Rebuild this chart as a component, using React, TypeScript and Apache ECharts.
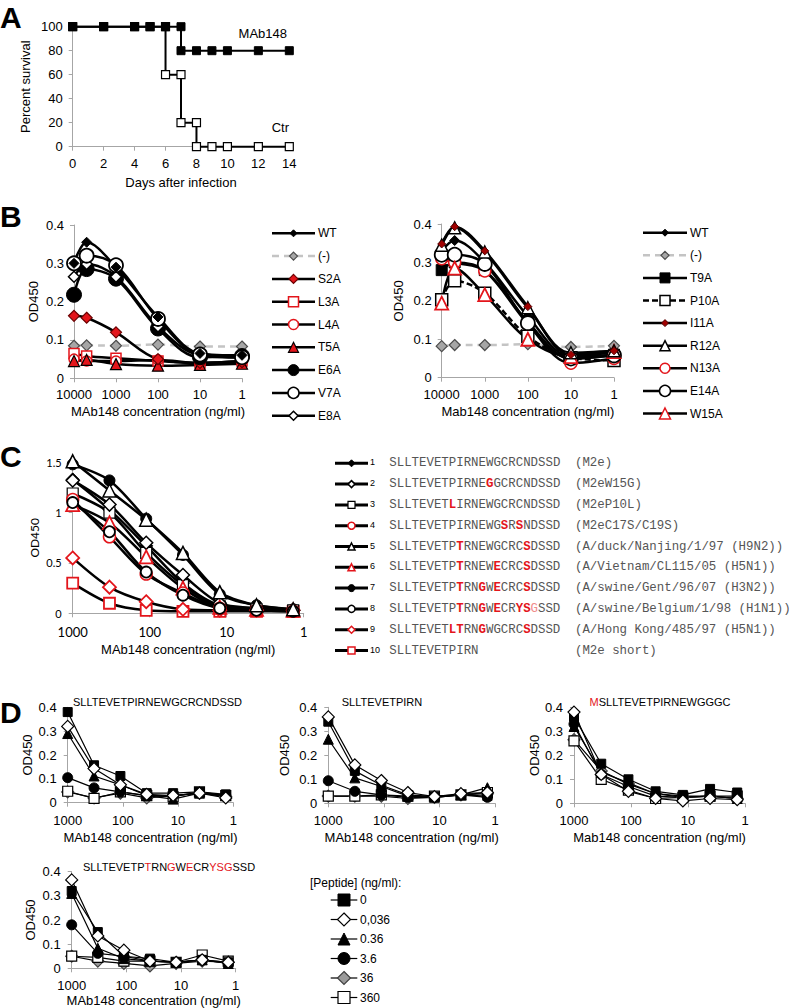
import React, { useEffect, useRef } from "react";
import * as echarts from "echarts";

const SANS = "Liberation Sans, Arial, sans-serif";
const MONO = "Liberation Mono, Courier New, monospace";
const CALI = "Lato, Open Sans, sans-serif";
const RED = "#e3151b";
const AXIS_GREY = "#a6a6a6";

/* ---------- Panel A ---------- */
const daysMAb148 = [0, 2, 4, 5, 6, 7, 7, 8, 9, 10, 12, 14];
const survMAb148 = [100, 100, 100, 100, 100, 100, 80, 80, 80, 80, 80, 80];
const daysCtr = [0, 2, 4, 5, 6, 6, 7, 7, 8, 8, 9, 10, 12, 14];
const survCtr = [100, 100, 100, 100, 100, 60, 60, 20, 20, 0, 0, 0, 0, 0];

/* ---------- Panel B ---------- */
const concB = [10000, 5000, 1000, 100, 10, 1];
const bLeftNames = ["WT", "(-)", "S2A", "L3A", "L4A", "T5A", "E6A", "V7A", "E8A"];
const bL_WT = [0.3, 0.355, 0.29, 0.16, 0.065, 0.06];
const bL_neg = [0.085, 0.086, 0.085, 0.088, 0.083, 0.083];
const bL_S2A = [0.163, 0.158, 0.12, 0.05, 0.04, 0.042];
const bL_L3A = [0.065, 0.058, 0.052, 0.045, 0.04, 0.045];
const bL_L4A = [0.05, 0.045, 0.045, 0.048, 0.04, 0.045];
const bL_T5A = [0.045, 0.048, 0.037, 0.033, 0.035, 0.038];
const bL_E6A = [0.218, 0.285, 0.26, 0.13, 0.055, 0.058];
const bL_V7A = [0.3, 0.32, 0.295, 0.155, 0.062, 0.055];
const bL_E8A = [0.265, 0.298, 0.265, 0.135, 0.06, 0.054];

const bRightNames = ["WT", "(-)", "T9A", "P10A", "I11A", "R12A", "N13A", "E14A", "W15A"];
const bR_WT = [0.33, 0.357, 0.3, 0.16, 0.055, 0.06];
const bR_neg = [0.082, 0.085, 0.085, 0.087, 0.08, 0.083];
const bR_T9A = [0.28, 0.3, 0.28, 0.145, 0.05, 0.06];
const bR_P10A = [0.203, 0.252, 0.22, 0.108, 0.052, 0.045];
const bR_I11A = [0.348, 0.393, 0.33, 0.185, 0.06, 0.07];
const bR_R12A = [0.345, 0.39, 0.327, 0.182, 0.065, 0.07];
const bR_N13A = [0.31, 0.3, 0.278, 0.14, 0.038, 0.05];
const bR_E14A = [0.32, 0.32, 0.296, 0.142, 0.05, 0.058];
const bR_W15A = [0.194, 0.285, 0.216, 0.1, 0.055, 0.068];

/* ---------- Panel C ---------- */
const concC = [1000, 333, 111, 37, 12.3, 4.1, 1.37];
const cNumbers = ["1", "2", "3", "4", "5", "6", "7", "8", "9", "10"];
const cSequences = [
  "SLLTEVETPIRNEWGCRCNDSSD",
  "SLLTEVETPIRNE[G]GCRCNDSSD",
  "SLLTEVET[L]IRNEWGCRCNDSSD",
  "SLLTEVETPIRNEWG[S]R[S]NDSSD",
  "SLLTEVETP[T]RNEWGCRC[S]DSSD",
  "SLLTEVETP[T]RNEW[E]CRC[S]DSSD",
  "SLLTEVETP[T]RN[G]W[E]CRC[S]DSSD",
  "SLLTEVETP[T]RN[G]W[E]CR[YS]<G>SSD",
  "SLLTEVET[LT]RN[G]WGCRC[S]DSSD",
  "SLLTEVETPIRN",
];
const cStrains = [
  "(M2e)",
  "(M2eW15G)",
  "(M2eP10L)",
  "(M2eC17S/C19S)",
  "(A/duck/Nanjing/1/97 (H9N2))",
  "(A/Vietnam/CL115/05 (H5N1))",
  "(A/swine/Gent/96/07 (H3N2))",
  "(A/swine/Belgium/1/98 (H1N1))",
  "(A/Hong Kong/485/97 (H5N1))",
  "(M2e short)",
];
const c1 = [1.33, 1.03, 0.67, 0.3, 0.08, 0.05, 0.03];
const c2 = [1.32, 1.08, 0.7, 0.38, 0.1, 0.05, 0.03];
const c3 = [1.19, 1.0, 0.6, 0.28, 0.07, 0.04, 0.03];
const c4 = [1.13, 0.76, 0.39, 0.2, 0.05, 0.03, 0.02];
const c5 = [1.51, 1.22, 0.93, 0.6, 0.21, 0.08, 0.04];
const c6 = [1.08, 0.9, 0.56, 0.25, 0.06, 0.04, 0.03];
const c7 = [1.48, 1.32, 0.94, 0.58, 0.19, 0.08, 0.04];
const c8 = [1.1, 0.81, 0.41, 0.18, 0.05, 0.03, 0.02];
const c9 = [0.55, 0.26, 0.115, 0.04, 0.03, 0.03, 0.03];
const c10 = [0.3, 0.1, 0.03, 0.02, 0.02, 0.02, 0.02];

/* ---------- Panel D ---------- */
const concD = [1000, 333, 111, 37, 12.3, 4.1, 1.37];
const peptideLabels = ["0", "0,036", "0.36", "3.6", "36", "360"];
const dTitles = [
  "SLLTEVETPIRNEWGCRCNDSSD",
  "SLLTEVETPIRN",
  "[M]SLLTEVETPIRNEWGGGC",
  "SLLTEVETP[T]RN[G]W[E]CR[YSG]SSD",
];
const dAxisNames = [
  "MAb148 concentration (ng/ml)",
  "MAb148 concentration (ng/ml)",
  "Mab148 concentration (ng/ml)",
  "MAb148 concentration (ng/ml)",
];
// D1
const d1_p0 = [0.38, 0.157, 0.112, 0.04, 0.04, 0.045, 0.035];
const d1_p0036 = [0.32, 0.143, 0.075, 0.035, 0.03, 0.04, 0.02];
const d1_p036 = [0.29, 0.112, 0.075, 0.03, 0.015, 0.04, 0.03];
const d1_p3_6 = [0.105, 0.062, 0.045, 0.03, 0.03, 0.04, 0.03];
const d1_p36 = [0.045, 0.02, 0.04, 0.02, 0.03, 0.04, 0.025];
const d1_p360 = [0.048, 0.018, 0.045, 0.03, 0.025, 0.045, 0.03];
// D2
const d2_p0 = [0.34, 0.135, 0.075, 0.035, 0.028, 0.035, 0.03];
const d2_p0036 = [0.36, 0.16, 0.095, 0.045, 0.028, 0.04, 0.045];
const d2_p036 = [0.267, 0.106, 0.07, 0.03, 0.025, 0.035, 0.065];
const d2_p3_6 = [0.094, 0.05, 0.035, 0.025, 0.025, 0.035, 0.025];
const d2_p36 = [0.03, 0.03, 0.03, 0.02, 0.025, 0.035, 0.04];
const d2_p360 = [0.03, 0.03, 0.035, 0.03, 0.03, 0.035, 0.045];
// D3
const d3_p0 = [0.36, 0.165, 0.1, 0.05, 0.035, 0.06, 0.045];
const d3_p0036 = [0.38, 0.12, 0.05, 0.02, 0.01, 0.02, 0.015];
const d3_p036 = [0.32, 0.13, 0.085, 0.04, 0.03, 0.03, 0.02];
const d3_p3_6 = [0.33, 0.12, 0.07, 0.03, 0.025, 0.03, 0.02];
const d3_p36 = [0.265, 0.135, 0.08, 0.04, 0.025, 0.03, 0.02];
const d3_p360 = [0.26, 0.1, 0.055, 0.02, 0.025, 0.03, 0.03];
// D4
const d4_p0 = [0.32, 0.15, 0.05, 0.04, 0.025, 0.035, 0.025];
const d4_p0036 = [0.366, 0.134, 0.075, 0.03, 0.025, 0.035, 0.025];
const d4_p036 = [0.31, 0.083, 0.04, 0.03, 0.025, 0.035, 0.02];
const d4_p3_6 = [0.18, 0.062, 0.05, 0.03, 0.025, 0.035, 0.02];
const d4_p36 = [0.05, 0.03, 0.02, 0.01, 0.02, 0.03, 0.025];
const d4_p360 = [0.05, 0.045, 0.03, 0.03, 0.025, 0.055, 0.03];

/* ---------- styles ---------- */
type Sty = {
  symbol: string;
  size: number;
  fill: string;
  stroke: string;
  bw: number;
  leg: number;
  line?: string;
  dash?: number[];
};
const S = (symbol: string, size: number, fill: string, stroke: string, bw: number, leg: number, extra: any = {}): Sty => ({
  symbol, size, fill, stroke, bw, leg, ...extra,
});

const styWT = S("diamond", 10, "#000", "#000", 1, 7);
const styNeg = S("diamond", 11, "#a6a6a6", "#4d4d4d", 1.2, 8, { line: "#c4c4c4", dash: [7, 5] });
const bLeftStyles = [
  styWT,
  styNeg,
  S("diamond", 11, RED, "#6b0000", 1.2, 9),
  S("rect", 10, "#fff", RED, 1.5, 10),
  S("circle", 10, "#fff", RED, 1.5, 10),
  S("triangle", 11, RED, "#000", 1.2, 10),
  S("circle", 15, "#000", "#000", 1, 11),
  S("circle", 14, "#fff", "#000", 1.8, 11),
  S("diamond", 11, "#fff", "#000", 1.5, 9),
];
const bRightStyles = [
  styWT,
  styNeg,
  S("rect", 11, "#000", "#000", 1, 10),
  S("rect", 12, "#fff", "#000", 1.5, 10, { dash: [6, 3] }),
  S("diamond", 8, "#a00000", "#500000", 1, 7),
  S("triangle", 12, "#fff", "#000", 1.5, 10),
  S("circle", 12, "#fff", RED, 1.5, 10),
  S("circle", 14, "#fff", "#000", 1.8, 11),
  S("triangle", 13, "#fff", RED, 1.8, 11),
];
const cStyles = [
  S("diamond", 13, "#000", "#000", 1, 7),
  S("diamond", 13, "#fff", "#000", 1.5, 7),
  S("rect", 11, "#fff", "#000", 1.2, 7),
  S("circle", 12, "#fff", RED, 1.5, 7),
  S("triangle", 13, "#fff", "#000", 1.5, 7),
  S("triangle", 13, "#fff", RED, 1.8, 7),
  S("circle", 11, "#000", "#000", 1, 7),
  S("circle", 11, "#fff", "#000", 1.8, 7),
  S("diamond", 13, "#fff", RED, 1.8, 7),
  S("rect", 11, "#fff", RED, 1.8, 7),
];
const dStyles = [
  S("rect", 9, "#000", "#000", 1, 12),
  S("diamond", 12, "#fff", "#000", 1.2, 13),
  S("triangle", 10, "#000", "#000", 1, 12),
  S("circle", 10, "#000", "#000", 1, 12),
  S("diamond", 12, "#9a9a9a", "#404040", 1.2, 13),
  S("rect", 10, "#fff", "#000", 1.2, 12),
];

/* ---------- helpers ---------- */
const zip = (xs: number[], ys: number[]) => xs.map((x, i) => [x, ys[i]]);

function lineSeries(name: string, xs: number[], ys: number[], gi: number, st: Sty, lw: number, smooth: any) {
  return {
    type: "line",
    name,
    xAxisIndex: gi,
    yAxisIndex: gi,
    data: zip(xs, ys),
    smooth,
    symbol: st.symbol,
    symbolSize: st.size,
    showSymbol: true,
    showAllSymbol: true,
    clip: false,
    silent: true,
    lineStyle: { color: st.line || "#000", width: lw, type: st.dash || "solid" },
    itemStyle: { color: st.fill, borderColor: st.stroke, borderWidth: st.bw },
    emphasis: { disabled: true },
  };
}

function gSym(kind: string, cx: number, cy: number, s: number, fill: string, stroke: string, lw: number) {
  const h = s / 2;
  const style = { fill, stroke, lineWidth: lw };
  if (kind === "rect") return { type: "rect", shape: { x: cx - h, y: cy - h, width: s, height: s }, style, z: 10 };
  if (kind === "circle") return { type: "circle", shape: { cx, cy, r: h }, style, z: 10 };
  if (kind === "diamond")
    return { type: "polygon", shape: { points: [[cx, cy - h], [cx + h, cy], [cx, cy + h], [cx - h, cy]] }, style, z: 10 };
  return { type: "polygon", shape: { points: [[cx, cy - h], [cx + h, cy + h], [cx - h, cy + h]] }, style, z: 10 };
}

function legendLine(x1: number, x2: number, y: number, st: Sty, lw: number) {
  const out: any[] = [];
  out.push({
    type: "line",
    shape: { x1, y1: y, x2, y2: y },
    style: { stroke: st.line || "#000", lineWidth: lw, lineDash: st.dash || null },
    z: 9,
  });
  out.push(gSym(st.symbol, (x1 + x2) / 2, y, st.leg, st.fill, st.stroke, Math.min(st.bw, 1.5)));
  return out;
}

function richText(seq: string, base: string, red: string, light: string) {
  let out = "";
  let buf = "";
  let mode = base;
  const flush = () => {
    if (buf) out += "{" + mode + "|" + buf + "}";
    buf = "";
  };
  for (const ch of seq) {
    if (ch === "[") { flush(); mode = red; }
    else if (ch === "<") { flush(); mode = light; }
    else if (ch === "]" || ch === ">") { flush(); mode = base; }
    else buf += ch;
  }
  flush();
  return out;
}

const txt = (x: number, y: number, text: string, size: number, align = "left", extra: any = {}) => ({
  type: "text",
  x,
  y,
  z: 11,
  style: { text, fontSize: size, fontFamily: SANS, fill: "#000", align, verticalAlign: "middle", ...extra },
});

/* ---------- option ---------- */
function buildOption() {
  const grids = [
    { left: 72.7, top: 26.7, width: 216.6, height: 120 },
    { left: 74, top: 225, width: 168, height: 153.3 },
    { left: 441.7, top: 224, width: 172.3, height: 153.7 },
    { left: 72.7, top: 462.3, width: 231, height: 151 },
    { left: 67.7, top: 707.3, width: 165.6, height: 95.4 },
    { left: 328.3, top: 707.3, width: 166.7, height: 96 },
    { left: 574, top: 707.3, width: 171, height: 96 },
    { left: 71.7, top: 871.7, width: 164, height: 96.6 },
  ].map((g) => ({ ...g, containLabel: false, outerBoundsMode: "none", show: false }));

  const axisBase = (fontFamily = SANS, fontSize = 13, margin = 10) => ({
    axisLine: { show: true, onZero: false, lineStyle: { color: AXIS_GREY, width: 1 } },
    axisTick: { show: true, length: 4, lineStyle: { color: AXIS_GREY } },
    minorTick: { show: false },
    splitLine: { show: false },
    axisLabel: { color: "#000", fontSize, fontFamily, margin },
    nameTextStyle: { color: "#000", fontSize: 13, fontFamily: SANS },
    nameLocation: "middle",
  });
  const logFmt = (v: number) => String(Math.round(v));

  const xAxis: any[] = [
    { ...axisBase(), gridIndex: 0, type: "value", min: 0, max: 14, interval: 2, name: "Days after infection", nameGap: 29 },
    { ...axisBase(), gridIndex: 1, type: "log", logBase: 10, min: 1, max: 10000, inverse: true, name: "MAb148 concentration (ng/ml)", nameGap: 27, axisLabel: { ...axisBase().axisLabel, formatter: logFmt } },
    { ...axisBase(), gridIndex: 2, type: "log", logBase: 10, min: 1, max: 10000, inverse: true, name: "Mab148 concentration (ng/ml)", nameGap: 27, axisLabel: { ...axisBase().axisLabel, formatter: logFmt } },
    { ...axisBase(CALI, 13, 12), gridIndex: 3, type: "log", logBase: 10, min: 1, max: 1000, inverse: true, name: "MAb148 concentration (ng/ml)", nameGap: 30, axisLabel: { ...axisBase(CALI, 13, 12).axisLabel, formatter: logFmt } },
  ];
  [4, 5, 6, 7].forEach((gi, k) => {
    xAxis.push({
      ...axisBase(SANS, 13, 11),
      gridIndex: gi,
      type: "log",
      logBase: 10,
      min: 1,
      max: 1000,
      inverse: true,
      name: dAxisNames[k],
      nameGap: gi === 7 ? 26 : 28,
      axisLabel: { ...axisBase(SANS, 13, 11).axisLabel, formatter: logFmt },
    });
  });

  const yAxis: any[] = [
    { ...axisBase(), gridIndex: 0, type: "value", min: 0, max: 100, interval: 20, name: "Percent survival", nameGap: 41 },
    { ...axisBase(), gridIndex: 1, type: "value", min: 0, max: 0.4, interval: 0.1, name: "OD450", nameGap: 34 },
    { ...axisBase(), gridIndex: 2, type: "value", min: 0, max: 0.4, interval: 0.1, name: "OD450", nameGap: 37 },
    { ...axisBase(CALI, 11, 11), gridIndex: 3, type: "value", min: 0, max: 1.5, interval: 0.5, name: "OD450", nameGap: 32, nameTextStyle: { color: "#000", fontSize: 12, fontFamily: CALI } },
  ];
  const dGaps = [34, 37, 33, 35];
  [4, 5, 6, 7].forEach((gi, k) => {
    yAxis.push({ ...axisBase(SANS, 13, 11), gridIndex: gi, type: "value", min: 0, max: 0.4, interval: 0.1, name: "OD450", nameGap: dGaps[k] });
  });

  const series: any[] = [];
  // Panel A
  series.push(lineSeries("Ctr", daysCtr, survCtr, 0, S("rect", 8, "#fff", "#000", 1.2, 8), 2, false));
  series.push(lineSeries("MAb148", daysMAb148, survMAb148, 0, S("rect", 8, "#000", "#000", 1, 8), 2, false));

  // Panel B left
  const bLeftVals = [bL_WT, bL_neg, bL_S2A, bL_L3A, bL_L4A, bL_T5A, bL_E6A, bL_V7A, bL_E8A];
  const bLeftOrder = [1, 3, 4, 5, 2, 6, 8, 7, 0];
  bLeftOrder.forEach((i) => series.push(lineSeries(bLeftNames[i], concB, bLeftVals[i], 1, bLeftStyles[i], 2.5, 0.35)));
  // Panel B right
  const bRightVals = [bR_WT, bR_neg, bR_T9A, bR_P10A, bR_I11A, bR_R12A, bR_N13A, bR_E14A, bR_W15A];
  const bRightOrder = [1, 2, 3, 0, 6, 7, 8, 5, 4];
  bRightOrder.forEach((i) => series.push(lineSeries(bRightNames[i], concB, bRightVals[i], 2, bRightStyles[i], 2.5, 0.35)));
  // Panel C
  const cVals = [c1, c2, c3, c4, c5, c6, c7, c8, c9, c10];
  const cOrder = [9, 8, 6, 0, 2, 1, 5, 3, 7, 4];
  cOrder.forEach((i) => series.push(lineSeries(cNumbers[i], concC, cVals[i], 3, cStyles[i], 2.5, 0.3)));
  // Panel D
  const dVals = [
    [d1_p0, d1_p0036, d1_p036, d1_p3_6, d1_p36, d1_p360],
    [d2_p0, d2_p0036, d2_p036, d2_p3_6, d2_p36, d2_p360],
    [d3_p0, d3_p0036, d3_p036, d3_p3_6, d3_p36, d3_p360],
    [d4_p0, d4_p0036, d4_p036, d4_p3_6, d4_p36, d4_p360],
  ];
  const dOrder = [4, 5, 3, 2, 0, 1];
  dVals.forEach((set, k) => {
    dOrder.forEach((i) => series.push(lineSeries(peptideLabels[i], concD, set[i], 4 + k, dStyles[i], 1.2, false)));
  });

  /* ---------- graphics ---------- */
  const g: any[] = [];
  // panel letters
  ([["A", 17], ["B", 216], ["C", 456], ["D", 712]] as [string, number][]).forEach(([t, y]) =>
    g.push(txt(0, y, t, 30, "left", { fontWeight: "bold" }))
  );
  // A labels
  g.push(txt(287, 33, "MAb148", 13, "right"));
  g.push(txt(289, 127, "Ctr", 13, "right"));

  // B legends
  bLeftNames.forEach((n, i) => {
    const y = 233.3 + i * 22.8;
    g.push(...legendLine(272, 315, y, bLeftStyles[i], 2.5));
    g.push(txt(318, y, n, 12));
  });
  bRightNames.forEach((n, i) => {
    const y = 232.7 + i * 22.6;
    g.push(...legendLine(643, 687, y, bRightStyles[i], 2.5));
    g.push(txt(690, y, n, 12));
  });

  // C legend
  const MF = 12.4;
  const seqRich = {
    n: { fill: "#555", fontFamily: MONO, fontSize: MF },
    r: { fill: RED, fontFamily: MONO, fontSize: MF, fontWeight: "bold" },
    l: { fill: "#f08a8a", fontFamily: MONO, fontSize: MF },
  };
  cSequences.forEach((seq, i) => {
    const y = 463.3 + i * 20.8;
    g.push(...legendLine(335, 368, y, cStyles[i], 3));
    g.push(txt(370, y - 1, cNumbers[i], 9));
    g.push({
      type: "text",
      x: 389.3,
      y,
      z: 11,
      style: { text: richText(seq, "n", "r", "l"), rich: seqRich, verticalAlign: "middle", align: "left", fontFamily: MONO, fontSize: MF, fill: "#555" },
    });
    g.push(txt(575, y, cStrains[i], MF, "left", { fontFamily: MONO, fill: "#555" }));
  });

  // D titles
  const titleRich = {
    n: { fill: "#000", fontFamily: SANS, fontSize: 11 },
    r: { fill: RED, fontFamily: SANS, fontSize: 11 },
    l: { fill: RED, fontFamily: SANS, fontSize: 11 },
  };
  const titlePos = [[157.5, 701.7], [382, 701.7], [660, 701.5], [169, 866.7]];
  dTitles.forEach((t, k) => {
    g.push({
      type: "text",
      x: titlePos[k][0],
      y: titlePos[k][1],
      z: 11,
      style: { text: richText(t, "n", "r", "l"), rich: titleRich, align: "center", verticalAlign: "middle", fontFamily: SANS, fontSize: 11 },
    });
  });

  // D legend
  g.push(txt(310, 883.3, "[Peptide] (ng/ml):", 12));
  peptideLabels.forEach((p, i) => {
    const y = 900 + i * 19.5;
    g.push(...legendLine(330.7, 357.3, y, dStyles[i], 1.2));
    g.push(txt(360, y, p, 12));
  });

  return {
    animation: false,
    backgroundColor: "#fff",
    textStyle: { fontFamily: SANS },
    grid: grids,
    xAxis,
    yAxis,
    series,
    graphic: { elements: g },
  };
}

export default function App() {
  const ref = useRef<HTMLDivElement>(null);
  useEffect(() => {
    const chart = echarts.init(ref.current as HTMLDivElement, null, { renderer: "svg" });
    chart.setOption(buildOption() as any);
    return () => chart.dispose();
  }, []);
  return <div ref={ref} style={{ position: "absolute", left: 0, top: 0, width: 800, height: 1008 }} />;
}
